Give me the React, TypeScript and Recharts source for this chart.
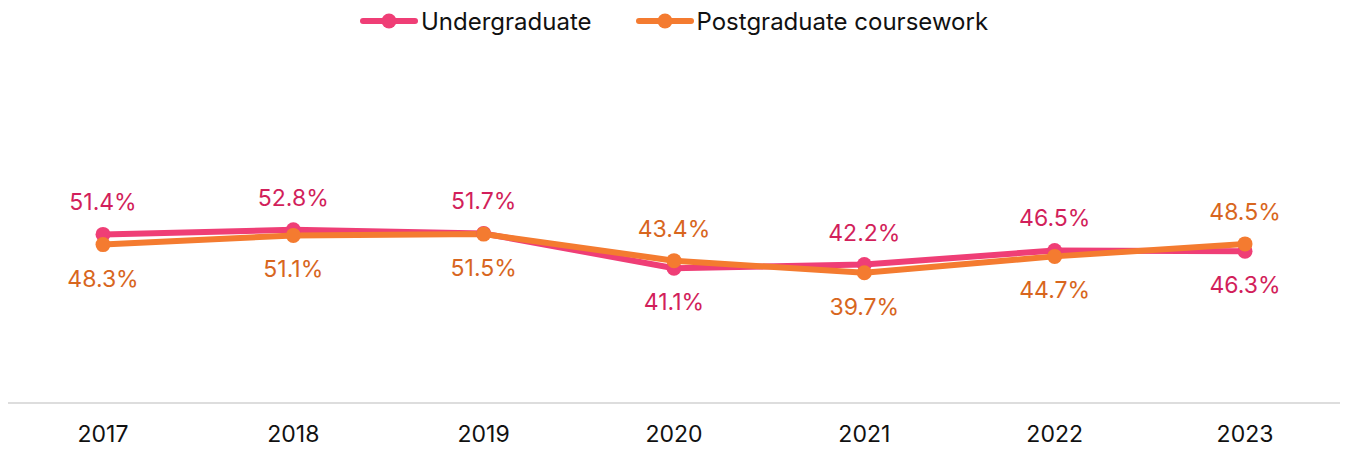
import React from "react";
import { LineChart, Line, XAxis, YAxis, Legend, LabelList } from "recharts";

const years = ["2017", "2018", "2019", "2020", "2021", "2022", "2023"];
const undergraduate = [51.4, 52.8, 51.7, 41.1, 42.2, 46.5, 46.3];
const postgraduate = [48.3, 51.1, 51.5, 43.4, 39.7, 44.7, 48.5];

const UG_LINE = "#ef3e76";
const UG_TEXT = "#d21f5b";
const PG_LINE = "#f47b30";
const PG_TEXT = "#d8661e";
const FONT = "Inter, 'Liberation Sans', Arial, sans-serif";

const data = years.map((y, i) => ({ year: y, ug: undergraduate[i], pg: postgraduate[i] }));

const makeLabel = (own: number[], other: number[], color: string) => (props: any) => {
  const { x, y, index, value } = props;
  const above = own[index] >= other[index];
  const ty = above ? y - 32 : y + 34;
  return (
    <text
      x={x}
      y={ty}
      textAnchor="middle"
      dominantBaseline="central"
      fill={color}
      fontSize={23}
      fontFamily={FONT}
    >
      {`${Number(value).toFixed(1)}%`}
    </text>
  );
};

const LegendIcon = ({ color }: { color: string }) => (
  <svg width={58} height={16} style={{ display: "block" }}>
    <line x1={3} y1={8} x2={55} y2={8} stroke={color} strokeWidth={6} strokeLinecap="round" />
    <circle cx={29} cy={8} r={7.5} fill={color} />
  </svg>
);

const CustomLegend = () => (
  <div
    style={{
      height: 40,
      display: "flex",
      justifyContent: "center",
      alignItems: "flex-start",
      fontFamily: FONT,
      fontSize: 24,
      color: "#111",
      gap: 44,
    }}
  >
    {[
      { name: "Undergraduate", color: UG_LINE },
      { name: "Postgraduate coursework", color: PG_LINE },
    ].map((it) => (
      <div key={it.name} style={{ display: "flex", alignItems: "center", gap: 3, height: 26 }}>
        <LegendIcon color={it.color} />
        <span>{it.name}</span>
      </div>
    ))}
  </div>
);

export default function App() {
  return (
    <LineChart
      width={1332}
      height={442}
      data={data}
      margin={{ top: 27, right: 0, left: 0, bottom: 0 }}
    >
      <Legend verticalAlign="top" align="center" content={<CustomLegend />} wrapperStyle={{ top: 0 }} />
      <XAxis
        dataKey="year"
        padding={{ left: 95, right: 95 }}
        axisLine={{ stroke: "#dddddd", strokeWidth: 2 }}
        tickLine={false}
        tickSize={0}
        tickMargin={23}
        height={47}
        tick={{ fill: "#111", fontSize: 23, fontFamily: FONT }}
      />
      <YAxis hide domain={[0, 100]} />
      <Line
        dataKey="ug"
        stroke={UG_LINE}
        strokeWidth={6}
        dot={{ r: 7.5, fill: UG_LINE, stroke: UG_LINE, strokeWidth: 0 }}
        activeDot={false}
        isAnimationActive={false}
      >
        <LabelList dataKey="ug" content={makeLabel(undergraduate, postgraduate, UG_TEXT)} />
      </Line>
      <Line
        dataKey="pg"
        stroke={PG_LINE}
        strokeWidth={6}
        dot={{ r: 7.5, fill: PG_LINE, stroke: PG_LINE, strokeWidth: 0 }}
        activeDot={false}
        isAnimationActive={false}
      >
        <LabelList dataKey="pg" content={makeLabel(postgraduate, undergraduate, PG_TEXT)} />
      </Line>
    </LineChart>
  );
}
